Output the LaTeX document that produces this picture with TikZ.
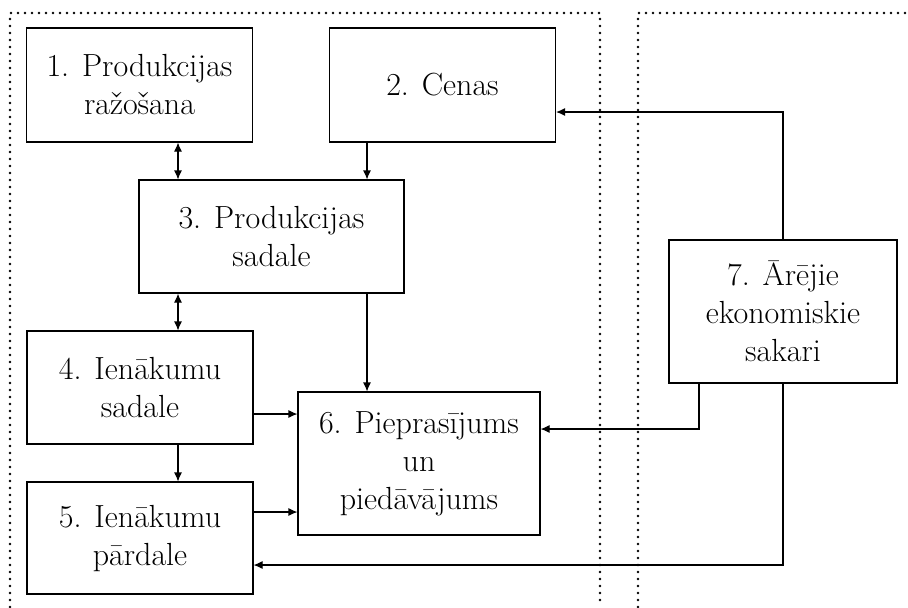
\documentclass[tikz,border=0pt]{standalone}
\usetikzlibrary{arrows.meta}

\begin{document}
\begin{tikzpicture}[x=0.5pt,y=-0.5pt, line width=0.55pt,
  box/.style={draw, align=center, inner sep=2pt, font=\fontsize{16}{19}\selectfont},
  arr/.style={-{Latex[length=4.5pt,width=4pt]}},
  both/.style={{Latex[length=4.5pt,width=4pt]}-{Latex[length=4.5pt,width=4pt]}},
  zone/.style={line width=1.3pt, dash pattern=on 0pt off 3.5pt, line cap=round}]

  \useasboundingbox (0,0) rectangle (908,607);

  % dotted zones
  \draw[zone] (10,607) -- (10,13) -- (600,13) -- (600,607);
  \draw[zone] (638,607) -- (638,13) -- (908,13);

  % boxes
  \node[box, minimum width=113pt, minimum height=57pt] (b1) at (139.5,85) {1. Produkcijas\\ražošana};
  \node[box, minimum width=113pt, minimum height=57pt] (b2) at (442.5,85) {2. Cenas};
  \node[box, minimum width=132.5pt, minimum height=56.5pt] (b3) at (271.5,236.5) {3. Produkcijas\\sadale};
  \node[box, minimum width=113pt, minimum height=56.5pt] (b4) at (140,387.5) {4. Ienākumu\\sadale};
  \node[box, minimum width=113pt, minimum height=56pt] (b5) at (140,538) {5. Ienākumu\\pārdale};
  \node[box, minimum width=121pt, minimum height=71.5pt] (b6) at (419,463.5) {6. Pieprasījums\\un\\piedāvājums};
  \node[box, minimum width=114pt, minimum height=71.5pt] (b7) at (783,311.5) {7. Ārējie\\ekonomiskie\\sakari};

  % helper lines for the connectors
  \coordinate (colL) at (178,0);
  \coordinate (colR) at (367,0);
  \coordinate (col7) at (699,0);
  \coordinate (row72) at (0,112);
  \coordinate (row46) at (0,414);
  \coordinate (row76) at (0,429);
  \coordinate (row56) at (0,512);
  \coordinate (row75) at (0,565);

  % vertical links
  \draw[both] (colL |- b1.south) -- (colL |- b3.north);
  \draw[arr] (colR |- b2.south) -- (colR |- b3.north);
  \draw[both] (colL |- b3.south) -- (colL |- b4.north);
  \draw[arr] (colR |- b3.south) -- (colR |- b6.north);
  \draw[arr] (colL |- b4.south) -- (colL |- b5.north);

  % into demand and supply
  \draw[arr] (b4.east |- row46) -- (b6.west |- row46);
  \draw[arr] (b5.east |- row56) -- (b6.west |- row56);

  % external links
  \draw[arr] (b7.north) |- (b2.east |- row72);
  \draw[arr] (col7 |- b7.south) |- (b6.east |- row76);
  \draw[arr] (b7.south) |- (b5.east |- row75);

\end{tikzpicture}
\end{document}
